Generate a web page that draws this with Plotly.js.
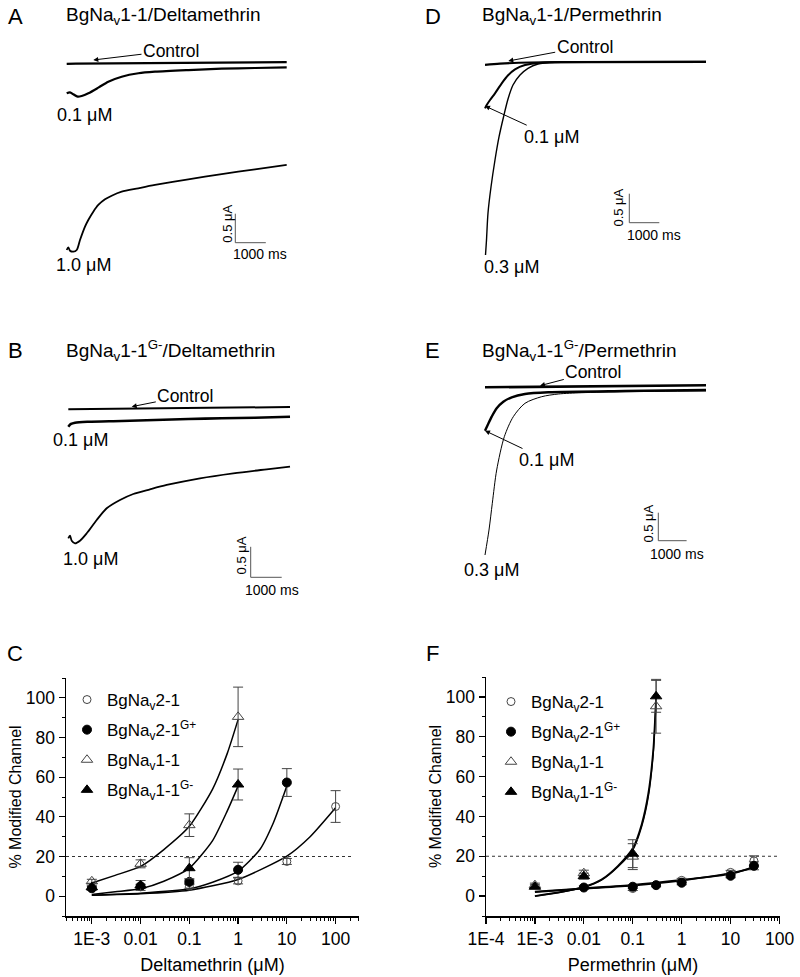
<!DOCTYPE html>
<html><head><meta charset="utf-8">
<script src="https://cdn.plot.ly/plotly-3.0.1.min.js"></script>
<style>html,body{margin:0;padding:0;background:#fff}#chart{width:800px;height:977px}</style>
</head><body><div id="chart"></div>
<script>
// ---------------- DATA ----------------
// Current traces: time (ms) and current (µA)
// Panel A: BgNav1-1 / Deltamethrin
const aT_ctrl = [0, 300, 7213];
const aI_ctrl = [-0.01, -0.005, 0.02];
const aT_01 = [0,108,218,360,492,710,1038,1364,1803,2350,2895,3987,5082,6175,7213];
const aI_01 = [-0.517,-0.500,-0.534,-0.575,-0.564,-0.517,-0.420,-0.317,-0.231,-0.172,-0.145,-0.116,-0.093,-0.081,-0.069];
const aT_10 = [0,52,108,216,328,436,600,708,872,1036,1256,1475,1803,2348,2895,3987,5082,6175,7213];
const aI_10 = [-3.219,-3.172,-3.231,-3.248,-3.219,-3.047,-2.817,-2.702,-2.559,-2.443,-2.345,-2.283,-2.214,-2.155,-2.098,-2.0,-1.909,-1.828,-1.753];
// Panel D: BgNav1-1 / Permethrin
const dT_ctrl = [0, 500, 1500, 7367];
const dI_ctrl = [-0.04, -0.02, 0, 0.01];
const dT_01 = [0,57,167,333,557,777,1000,1333,1890,2667,7367];
const dI_01 = [-0.790,-0.733,-0.647,-0.531,-0.359,-0.216,-0.117,-0.043,-0.003,0.009,0.014];
const dT_03 = [17,50,100,200,333,467,617,767,933,1167,1433,1767,2333,7367];
const dI_03 = [-3.319,-3.060,-2.595,-2.147,-1.681,-1.284,-0.940,-0.629,-0.388,-0.216,-0.100,-0.026,0.003,0.014];
// Panel B: BgNav1-1G- / Deltamethrin
const bT_ctrl = [0, 7152];
const bI_ctrl = [-0.02, 0.016];
const bT_01 = [0,87,216,645,1723,2797,3871,4948,6023,7152];
const bI_01 = [-0.307,-0.262,-0.241,-0.225,-0.213,-0.197,-0.180,-0.169,-0.159,-0.143];
const bT_10 = [0,55,110,216,377,594,916,1239,1668,2097,2635,3174,4248,5323,6400,7152];
const bI_10 = [-2.136,-2.093,-2.175,-2.218,-2.175,-2.054,-1.836,-1.644,-1.508,-1.410,-1.333,-1.262,-1.152,-1.070,-1.005,-0.962];
// Panel E: BgNav1-1G- / Permethrin
const eT_ctrl = [0, 7809];
const eI_ctrl = [-0.005, 0.03];
const eT_01 = [0,95,237,413,647,943,1413,2237,4947,7809];
const eI_01 = [-0.780,-0.679,-0.530,-0.380,-0.263,-0.184,-0.125,-0.095,-0.071,-0.054];
const eT_03 = [0,141,258,413,682,1000,1413,2004,2590,3417,4947,7809];
const eI_03 = [-3.0,-2.554,-2.077,-1.482,-0.888,-0.530,-0.291,-0.173,-0.125,-0.102,-0.084,-0.071];
// Scale bars
const SCALE_MS = 1000;
const SCALE_UA = 0.5;

// Dose–response: % modified channel
const seriesNames = ['BgNa<sub>v</sub>2-1', 'BgNa<sub>v</sub>2-1<sup>G+</sup>', 'BgNa<sub>v</sub>1-1', 'BgNa<sub>v</sub>1-1<sup>G-</sup>'];
// Panel C: Deltamethrin
const cX_nav21 = [0.1, 1, 10, 100];
const cY_nav21 = [5.0, 7.7, 17.5, 45.2];
const cE_nav21 = [1, 1.5, 1.5, 8];
const cX_nav21G = [0.001, 0.01, 0.1, 1, 10];
const cY_nav21G = [4.0, 5.0, 7.2, 13.3, 57.3];
const cE_nav21G = [1, 1, 1, 3.8, 7];
const cX_nav11 = [0.001, 0.01, 0.1, 1];
const cY_nav11 = [7.5, 16.3, 35.8, 90.4];
const cE_nav11 = [1, 2, 5.7, 15];
const cX_nav11G = [0.001, 0.01, 0.1, 1];
const cY_nav11G = [4.5, 5.4, 14.1, 56.3];
const cE_nav11G = [1, 2.5, 5.3, 7.8];
// fitted curves
const cFitX_nav21 = [0.001, 0.01, 0.1, 1, 10, 30, 100];
const cFitY_nav21 = [0.5, 1.2, 3.0, 8.4, 20.2, 30, 44.6];
const cFitX_nav21G = [0.001, 0.01, 0.1, 0.3, 1, 2.8, 5.3, 10];
const cFitY_nav21G = [0.5, 1.5, 3.7, 7, 12.6, 23.5, 37, 55.5];
const cFitX_nav11 = [0.001, 0.003, 0.01, 0.03, 0.1, 0.3, 0.6, 1];
const cFitY_nav11 = [6.6, 10.5, 15, 23.5, 35.2, 54, 72, 89];
const cFitX_nav11G = [0.001, 0.003, 0.01, 0.03, 0.1, 0.3, 0.6, 1];
const cFitY_nav11G = [0.9, 2.2, 3.7, 7.5, 14.1, 28, 43, 55.5];
// Panel F: Permethrin
const fX_nav21 = [0.1, 1, 10, 30];
const fY_nav21 = [3.8, 7.9, 11.9, 17.7];
const fE_nav21 = [1, 1, 1, 2.5];
const fX_nav21G = [0.01, 0.1, 0.3, 1, 10, 30];
const fY_nav21G = [4.3, 4.7, 5.5, 6.7, 10.2, 15.2];
const fE_nav21G = [0.8, 0.8, 0.8, 1, 1, 2];
const fX_nav11 = [0.001, 0.01, 0.1, 0.3];
const fY_nav11 = [5.5, 11.5, 19.8, 95.3];
const fE_nav11 = [1, 1.5, 6.5, 13.5];
const fX_nav11G = [0.001, 0.01, 0.1, 0.3];
const fY_nav11G = [4.7, 10, 21.3, 100.3];
const fE_nav11G = [1, 1.5, 7, 8];
const fFitX_nav11 = [0.001, 0.003, 0.01, 0.023, 0.05, 0.1, 0.152, 0.208, 0.263, 0.298];
const fFitY_nav11 = [0, 1.7, 4.4, 8.0, 14.7, 23.1, 34.8, 49.8, 71.6, 97];
const fFitX_nav11G = [0.001, 0.003, 0.01, 0.023, 0.05, 0.1, 0.152, 0.208, 0.263, 0.3];
const fFitY_nav11G = [0, 1.8, 4.6, 8.3, 15.2, 24, 36, 51.5, 73.5, 100];
const fFitX_nav21 = [0.001, 0.01, 0.1, 1, 10, 30];
const fFitY_nav21 = [2.0, 3.7, 5.3, 7.8, 11.5, 14.0];
const fFitX_nav21G = [0.001, 0.01, 0.1, 1, 10, 30];
const fFitY_nav21G = [2.2, 3.9, 5.6, 8.1, 11.1, 14.7];
const THRESH = 20;
const cTickVals = [0.001, 0.01, 0.1, 1, 10, 100];
const cTickText = ['1E-3', '0.01', '0.1', '1', '10', '100'];
const fTickVals = [0.0001, 0.001, 0.01, 0.1, 1, 10, 100];
const fTickText = ['1E-4', '1E-3', '0.01', '0.1', '1', '10', '100'];

// ---------------- LAYOUT ----------------
const W = 800, H = 977;
const FONT = 'Arial, "Liberation Sans", Helvetica, sans-serif';
const px = (x) => x / W;
const py = (y) => 1 - y / H;

const panels = {
  A: {ax: '',  box: [40, 30, 300, 285],  x0: 66.7, y0: 63.3, pps: 30.5, ppu: 58, bar: [235.3, 242.7]},
  D: {ax: '2', box: [460, 30, 720, 285], x0: 485,  y0: 62.5, pps: 30,   ppu: 58, bar: [629.3, 222.7]},
  B: {ax: '3', box: [40, 370, 300, 600], x0: 68.3, y0: 408,  pps: 31,   ppu: 61, bar: [250.7, 577.3]},
  E: {ax: '4', box: [460, 370, 720, 600], x0: 485, y0: 387,  pps: 28.3, ppu: 56, bar: [658.3, 540.7]},
};
const toT = (p, x) => (x - p.x0) / p.pps * 1000;
const toI = (p, y) => -(y - p.y0) / p.ppu;

const layout = {
  width: W, height: H,
  margin: {l: 0, r: 0, t: 0, b: 0},
  paper_bgcolor: '#fff', plot_bgcolor: 'rgba(0,0,0,0)',
  font: {family: FONT, color: '#000', size: 16},
  showlegend: true,
  shapes: [], annotations: []
};

Object.values(panels).forEach(p => {
  const b = p.box;
  layout['xaxis' + p.ax] = {domain: [px(b[0]), px(b[2])], range: [toT(p, b[0]), toT(p, b[2])], visible: false, anchor: 'y' + p.ax, showgrid: false, zeroline: false};
  layout['yaxis' + p.ax] = {domain: [py(b[3]), py(b[1])], range: [toI(p, b[3]), toI(p, b[1])], visible: false, anchor: 'x' + p.ax, showgrid: false, zeroline: false};
  const cx = toT(p, p.bar[0]), cy = toI(p, p.bar[1]);
  const xr = 'x' + p.ax, yr = 'y' + p.ax;
  layout.shapes.push({type: 'line', xref: xr, yref: yr, x0: cx, x1: cx, y0: cy, y1: cy + SCALE_UA, line: {color: '#555', width: 1}});
  layout.shapes.push({type: 'line', xref: xr, yref: yr, x0: cx, x1: cx + SCALE_MS, y0: cy, y1: cy, line: {color: '#555', width: 1}});
});

function minorVals(lo, hi) {
  const v = [];
  for (let d = lo; d < hi; d++) for (let k = 2; k <= 9; k++) v.push(k * Math.pow(10, d));
  return v;
}

const axisCommon = {
  showline: true, linecolor: '#000', linewidth: 1.5, mirror: false,
  ticks: 'outside', ticklen: 6, tickwidth: 1.2, tickcolor: '#000',
  showgrid: false, zeroline: false,
  tickfont: {family: FONT, size: 17.5, color: '#000'}
};

layout.xaxis5 = Object.assign({}, axisCommon, {
  type: 'log', domain: [px(66), px(359)], range: [-3.53, 2.48], anchor: 'y5',
  tickmode: 'array', tickvals: cTickVals, ticktext: cTickText,
  minor: {ticks: 'outside', ticklen: 3, tickwidth: 1, tickcolor: '#000', tickmode: 'array', tickvals: minorVals(-4, 3), showgrid: false},
  title: {text: 'Deltamethrin (μM)', font: {family: FONT, size: 18}, standoff: 11}
});
layout.yaxis5 = Object.assign({}, axisCommon, {
  domain: [py(916), py(678)], range: [-10, 110], anchor: 'x5',
  tickmode: 'linear', tick0: 0, dtick: 20,
  minor: {ticks: 'outside', ticklen: 3, tickwidth: 1, tickcolor: '#000', dtick: 10, tick0: 0, showgrid: false},
  title: {text: '% Modified Channel', font: {family: FONT, size: 16}, standoff: 0}
});
layout.xaxis6 = Object.assign({}, axisCommon, {
  type: 'log', domain: [px(486), px(780)], range: [-4, 2.01], anchor: 'y6',
  tickmode: 'array', tickvals: fTickVals, ticktext: fTickText,
  minor: {ticks: 'outside', ticklen: 3, tickwidth: 1, tickcolor: '#000', tickmode: 'array', tickvals: minorVals(-4, 3), showgrid: false},
  title: {text: 'Permethrin (μM)', font: {family: FONT, size: 18}, standoff: 11}
});
layout.yaxis6 = Object.assign({}, axisCommon, {
  domain: [py(916), py(677)], range: [-10, 110], anchor: 'x6',
  tickmode: 'linear', tick0: 0, dtick: 20,
  minor: {ticks: 'outside', ticklen: 3, tickwidth: 1, tickcolor: '#000', dtick: 10, tick0: 0, showgrid: false},
  title: {text: '% Modified Channel', font: {family: FONT, size: 16}, standoff: 0}
});

layout.shapes.push({type: 'line', xref: 'x5 domain', yref: 'y5', x0: 0, x1: 0.98, y0: THRESH, y1: THRESH, layer: 'below', line: {color: '#333', width: 1, dash: 'dot'}});
layout.shapes.push({type: 'line', xref: 'x6 domain', yref: 'y6', x0: 0, x1: 1, y0: THRESH, y1: THRESH, layer: 'below', line: {color: '#333', width: 1, dash: 'dot'}});

const legendCommon = {xanchor: 'left', yanchor: 'top', bgcolor: 'rgba(0,0,0,0)', borderwidth: 0,
  font: {family: FONT, size: 17, color: '#000'}, itemclick: false, itemdoubleclick: false,
  traceorder: 'grouped', tracegroupgap: 5};
layout.legend = Object.assign({}, legendCommon, {x: px(67), y: py(682)});
layout.legend2 = Object.assign({}, legendCommon, {x: px(491), y: py(684)});

// annotations
function txt(x, y, text, size, extra) {
  layout.annotations.push(Object.assign({xref: 'paper', yref: 'paper', x: px(x), y: py(y), text: text, showarrow: false,
    xanchor: 'center', yanchor: 'middle', font: {family: FONT, size: size, color: '#000'}}, extra || {}));
}
function arrowTxt(tipX, tipY, cX, cY, text, size) {
  layout.annotations.push({xref: 'paper', yref: 'paper', x: px(tipX), y: py(tipY), ax: cX - tipX, ay: cY - tipY,
    text: text, showarrow: true, arrowhead: 2, arrowsize: 1, arrowwidth: 1, arrowcolor: '#000',
    font: {family: FONT, size: size, color: '#000'}});
}
// panel letters
txt(15, 16, 'A', 22); txt(433, 16, 'D', 22); txt(15, 350, 'B', 22);
txt(432, 350, 'E', 22); txt(15, 653, 'C', 22); txt(432, 653, 'F', 22);
// titles
txt(64, 16, 'BgNa<sub>v</sub>1-1/Deltamethrin', 19, {xanchor: 'left'});
txt(480, 16, 'BgNa<sub>v</sub>1-1/Permethrin', 19, {xanchor: 'left'});
txt(64, 350, 'BgNa<sub>v</sub>1-1<sup>G-</sup>/Deltamethrin', 19, {xanchor: 'left'});
txt(480, 350, 'BgNa<sub>v</sub>1-1<sup>G-</sup>/Permethrin', 19, {xanchor: 'left'});
// trace labels
arrowTxt(93.3, 60, 171, 50.7, 'Control', 17.5);
txt(84.5, 115, '0.1 μM', 18); txt(83, 265, '1.0 μM', 18);
arrowTxt(508.3, 61, 584.7, 46.7, 'Control', 17.5);
arrowTxt(485, 106, 551.7, 136.7, '0.1 μM', 18);
txt(511.7, 266.7, '0.3 μM', 18);
arrowTxt(131.7, 406.7, 185.3, 396, 'Control', 17.5);
txt(80, 440, '0.1 μM', 18); txt(90.7, 559.3, '1.0 μM', 18);
arrowTxt(540, 385.7, 593.3, 371.7, 'Control', 17.5);
arrowTxt(485, 430.7, 546.7, 460, '0.1 μM', 18);
txt(491.7, 570, '0.3 μM', 18);
// scale bar labels
[[227.7, 224, 260, 254], [618.3, 207.3, 654, 235], [241.7, 555.7, 271.7, 590], [648.3, 523.3, 676.7, 554]].forEach(s => {
  txt(s[0], s[1], SCALE_UA + ' μA', 13, {textangle: -90});
  txt(s[2], s[3], SCALE_MS + ' ms', 14);
});

// ---------------- TRACES ----------------
const data = [];
function cur(p, t, i, w) {
  data.push({x: t, y: i, type: 'scatter', mode: 'lines', xaxis: 'x' + p.ax, yaxis: 'y' + p.ax, showlegend: false,
    hoverinfo: 'skip', line: {color: '#000', width: w, shape: 'spline', smoothing: 0.8}});
}
cur(panels.A, aT_ctrl, aI_ctrl, 2.2); cur(panels.A, aT_01, aI_01, 2.2); cur(panels.A, aT_10, aI_10, 1.8);
cur(panels.D, dT_ctrl, dI_ctrl, 2.2); cur(panels.D, dT_01, dI_01, 2.0); cur(panels.D, dT_03, dI_03, 1.4);
cur(panels.B, bT_ctrl, bI_ctrl, 2.0); cur(panels.B, bT_01, bI_01, 2.6); cur(panels.B, bT_10, bI_10, 1.8);
cur(panels.E, eT_ctrl, eI_ctrl, 2.6); cur(panels.E, eT_01, eI_01, 2.4); cur(panels.E, eT_03, eI_03, 1.0);

function fit(x, y, ax, w) {
  data.push({x: x, y: y, type: 'scatter', mode: 'lines', xaxis: 'x' + ax, yaxis: 'y' + ax, showlegend: false,
    hoverinfo: 'skip', line: {color: '#000', width: w, shape: 'spline', smoothing: 0.6}});
}
fit(cFitX_nav21, cFitY_nav21, '5', 1.5); fit(cFitX_nav21G, cFitY_nav21G, '5', 1.5);
fit(cFitX_nav11, cFitY_nav11, '5', 1.5); fit(cFitX_nav11G, cFitY_nav11G, '5', 1.5);
fit(fFitX_nav21, fFitY_nav21, '6', 1.8); fit(fFitX_nav21G, fFitY_nav21G, '6', 1.8);
fit(fFitX_nav11, fFitY_nav11, '6', 1.3); fit(fFitX_nav11G, fFitY_nav11G, '6', 1.8);

const symbols = ['circle-open', 'circle', 'triangle-up-open', 'triangle-up'];
const sizes = [8, 9, 10, 10];
function pts(x, y, e, k, ax, leg) {
  const open = symbols[k].indexOf('open') >= 0;
  data.push({x: x, y: y, type: 'scatter', mode: 'markers', name: seriesNames[k], xaxis: 'x' + ax, yaxis: 'y' + ax,
    legend: leg, legendgroup: leg + '_' + k, showlegend: true,
    marker: {symbol: symbols[k], size: sizes[k], color: open ? '#444' : '#000', line: {color: open ? '#444' : '#000', width: 1}},
    error_y: {type: 'data', array: e, visible: true, color: '#444', thickness: 1, width: 5}});
}
pts(cX_nav21, cY_nav21, cE_nav21, 0, '5', 'legend');
pts(cX_nav21G, cY_nav21G, cE_nav21G, 1, '5', 'legend');
pts(cX_nav11, cY_nav11, cE_nav11, 2, '5', 'legend');
pts(cX_nav11G, cY_nav11G, cE_nav11G, 3, '5', 'legend');
pts(fX_nav21, fY_nav21, fE_nav21, 0, '6', 'legend2');
pts(fX_nav21G, fY_nav21G, fE_nav21G, 1, '6', 'legend2');
pts(fX_nav11, fY_nav11, fE_nav11, 2, '6', 'legend2');
pts(fX_nav11G, fY_nav11G, fE_nav11G, 3, '6', 'legend2');

Plotly.newPlot('chart', data, layout, {staticPlot: true, displayModeBar: false});
</script></body></html>
